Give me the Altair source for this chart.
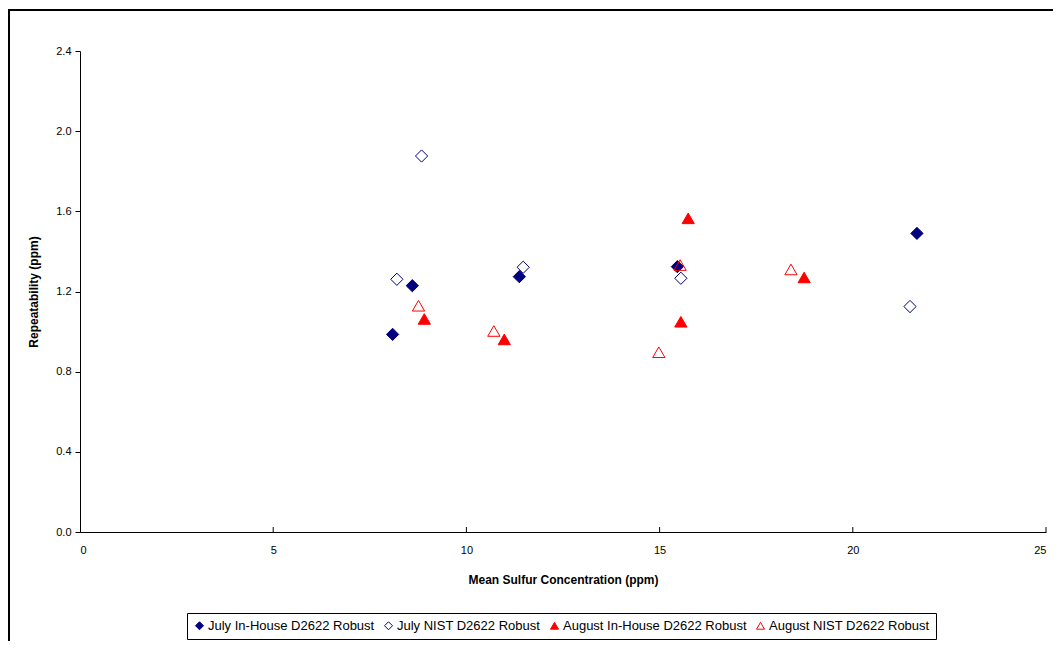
import altair as alt
import pandas as pd

series_names = [
    "July In-House D2622 Robust",
    "July NIST D2622 Robust",
    "August In-House D2622 Robust",
    "August NIST D2622 Robust",
]
july_inhouse_x = [8.09, 8.60, 11.37, 15.46, 21.66]
july_inhouse_y = [0.986, 1.229, 1.274, 1.324, 1.490]
july_nist_x = [8.84, 8.20, 11.47, 15.55, 21.48]
july_nist_y = [1.876, 1.261, 1.321, 1.266, 1.125]
aug_inhouse_x = [8.91, 10.98, 15.74, 15.55, 18.74]
aug_inhouse_y = [1.063, 0.961, 1.565, 1.049, 1.270]
aug_nist_x = [8.76, 10.71, 15.53, 14.98, 18.40]
aug_nist_y = [1.129, 1.003, 1.332, 0.897, 1.310]

x_ticks = [0, 5, 10, 15, 20, 25]
y_ticks = [0.0, 0.4, 0.8, 1.2, 1.6, 2.0, 2.4]

rows = []
for name, xs, ys in zip(
    series_names,
    [july_inhouse_x, july_nist_x, aug_inhouse_x, aug_nist_x],
    [july_inhouse_y, july_nist_y, aug_inhouse_y, aug_nist_y],
):
    for xv, yv in zip(xs, ys):
        rows.append({"series": name, "x": xv, "y": yv})
df = pd.DataFrame(rows)

FONT = "Liberation Sans"
stroke_colors = ["#000080", "#000080", "#FF0000", "#FF0000"]
fill_colors = ["#000080", "transparent", "#FF0000", "transparent"]
shapes = ["diamond", "diamond", "triangle-up", "triangle-up"]

xscale = alt.Scale(domain=[0, 25], nice=False, zero=True)
yscale = alt.Scale(domain=[0, 2.4], nice=False, zero=True)

x_axis = alt.Axis(
    values=x_ticks,
    title="Mean Sulfur Concentration (ppm)",
    ticks=False,
    grid=False,
    labelPadding=12,
    titlePadding=19,
    format="d",
)

points = alt.Chart(df).mark_point(filled=True, size=150, strokeWidth=1, opacity=1).encode(
    x=alt.X("x:Q", scale=xscale, axis=x_axis),
    y=alt.Y(
        "y:Q",
        scale=yscale,
        axis=alt.Axis(
            values=y_ticks,
            title="Repeatability (ppm)",
            format=".1f",
            grid=False,
            tickSize=5,
            labelPadding=4,
            titlePadding=15,
        ),
    ),
    fill=alt.Fill("series:N", scale=alt.Scale(domain=series_names, range=fill_colors), title=None),
    stroke=alt.Stroke("series:N", scale=alt.Scale(domain=series_names, range=stroke_colors), title=None),
    shape=alt.Shape("series:N", scale=alt.Scale(domain=series_names, range=shapes), title=None),
)

xtick_marks = alt.Chart(pd.DataFrame({"t": x_ticks[1:]})).mark_rule(color="black", strokeWidth=1).encode(
    x=alt.X("t:Q", scale=xscale, axis=x_axis, title="Mean Sulfur Concentration (ppm)"),
    y=alt.value(481),
    y2=alt.value(476),
)

frame_left = alt.Chart(alt.Data(values=[{}])).mark_rule(color="black", strokeWidth=2).encode(
    x=alt.value(-71), y=alt.value(-42), y2=alt.value(700)
)
frame_top = alt.Chart(alt.Data(values=[{}])).mark_rule(color="black", strokeWidth=2).encode(
    x=alt.value(-72), x2=alt.value(1100), y=alt.value(-41)
)

chart = (
    alt.layer(points, xtick_marks, frame_left, frame_top)
    .properties(
        width=966,
        height=481,
        autosize=alt.AutoSizeParams(type="none"),
        padding={"left": 72, "top": 43, "right": 7, "bottom": 109},
        background="white",
    )
    .configure_view(stroke=None)
    .configure_axis(
        labelFont=FONT,
        titleFont=FONT,
        labelFontSize=11,
        titleFontSize=12,
        titleFontWeight="bold",
        labelColor="black",
        titleColor="black",
        domainColor="black",
        tickColor="black",
        domainWidth=1,
    )
    .configure_legend(
        orient="none",
        legendX=107,
        legendY=562,
        direction="horizontal",
        strokeColor="black",
        fillColor="white",
        padding=6,
        labelFont=FONT,
        labelFontSize=13,
        labelColor="black",
        labelLimit=0,
        symbolSize=64,
        symbolStrokeWidth=1,
        columnPadding=7,
        labelOffset=2,
        cornerRadius=0,
    )
)

chart.save("out.html", embed_options={"renderer": "svg", "actions": False})
